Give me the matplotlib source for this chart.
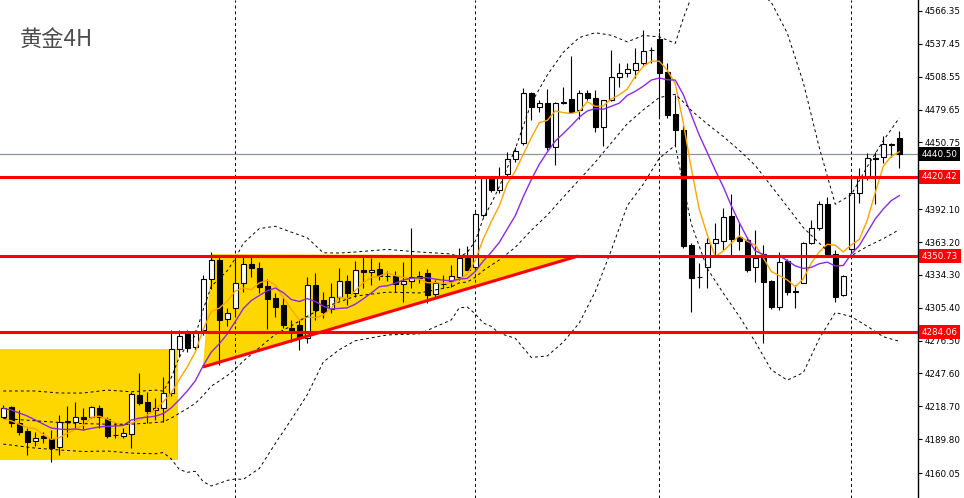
import numpy as np
import matplotlib.pyplot as plt
import matplotlib.transforms as mtransforms
from matplotlib.patches import Rectangle, Polygon

# 4H candles
opens = [4209.6, 4217.8, 4204.3, 4197.0, 4188.2, 4192.8, 4189.9, 4182.6, 4204.9, 4205.2,
         4209.2, 4209.2, 4216.9, 4207.3, 4193.9, 4192.8, 4194.3, 4228.6, 4222.7, 4215.4,
         4216.9, 4230.1, 4268.8, 4282.9, 4271.1, 4285.8, 4330.4, 4347.4, 4295.2, 4304.9,
         4326.9, 4343.8, 4340.2, 4324.5, 4313.7, 4307.8, 4287.6, 4290.2, 4278.5, 4325.4,
         4312.2, 4304.3, 4314.8, 4328.9, 4318.1, 4338.6, 4336.5, 4339.9, 4333.7, 4333.3,
         4326.0, 4328.9, 4331.8, 4335.9, 4317.2, 4326.0, 4328.5, 4332.8, 4349.1, 4341.2,
         4386.9, 4420.2, 4408.9, 4423.0, 4435.9, 4450.0, 4494.0, 4481.6, 4485.2, 4446.5,
         4485.7, 4488.7, 4479.3, 4494.0, 4489.6, 4464.6, 4488.1, 4508.5, 4512.1, 4514.4,
         4520.9, 4532.0, 4541.4, 4513.0, 4475.5, 4461.7, 4360.5, 4332.8, 4340.9, 4362.6,
         4364.3, 4386.1, 4367.9, 4364.9, 4340.9, 4352.6, 4328.9, 4306.3, 4346.7, 4320.1,
         4327.5, 4362.6, 4375.2, 4396.3, 4352.6, 4316.6, 4356.8, 4406.0, 4420.6, 4436.6,
         4437.8, 4448.9, 4454.6]
highs = [4219.8, 4219.0, 4215.4, 4199.6, 4196.4, 4196.4, 4197.9, 4211.1, 4219.0, 4222.7,
         4217.2, 4219.2, 4219.8, 4209.6, 4205.2, 4199.3, 4231.5, 4248.2, 4231.5, 4225.7,
         4244.7, 4285.8, 4285.8, 4285.8, 4285.8, 4334.2, 4354.4, 4351.8, 4304.9, 4350.0,
         4350.3, 4351.8, 4346.0, 4330.6, 4318.1, 4315.1, 4294.6, 4294.6, 4332.8, 4335.7,
         4319.5, 4326.9, 4340.3, 4334.2, 4346.7, 4350.0, 4348.9, 4346.0, 4337.7, 4338.1,
         4345.6, 4375.5, 4337.7, 4339.9, 4329.8, 4334.2, 4343.0, 4357.6, 4359.7, 4389.6,
         4420.6, 4420.6, 4429.5, 4442.3, 4447.1, 4498.6, 4495.4, 4488.1, 4497.5, 4486.3,
         4499.8, 4526.8, 4496.9, 4496.9, 4496.9, 4488.1, 4532.0, 4520.3, 4520.3, 4533.5,
         4549.6, 4535.0, 4548.1, 4520.3, 4492.5, 4466.1, 4362.0, 4344.5, 4366.4, 4380.2,
         4392.8, 4405.4, 4381.0, 4367.9, 4373.7, 4360.5, 4329.8, 4354.7, 4348.1, 4325.4,
         4363.5, 4382.5, 4399.5, 4403.0, 4356.2, 4334.2, 4422.1, 4428.0, 4441.1, 4442.6,
         4456.4, 4450.0, 4460.5]
lows = [4208.1, 4200.8, 4193.5, 4175.9, 4183.8, 4186.2, 4170.0, 4175.9, 4191.7, 4199.3,
        4197.9, 4208.1, 4199.3, 4190.6, 4190.6, 4190.6, 4181.8, 4219.8, 4204.3, 4206.7,
        4205.2, 4227.8, 4262.3, 4266.7, 4268.2, 4281.4, 4321.6, 4255.0, 4289.3, 4299.0,
        4319.5, 4332.8, 4318.1, 4286.7, 4297.5, 4287.3, 4275.2, 4268.2, 4274.1, 4294.6,
        4296.1, 4300.5, 4312.2, 4307.8, 4315.1, 4322.5, 4325.4, 4329.8, 4328.9, 4319.5,
        4310.4, 4322.7, 4327.1, 4310.0, 4315.1, 4322.5, 4323.6, 4329.8, 4338.6, 4338.6,
        4385.2, 4407.4, 4406.0, 4419.5, 4433.5, 4448.5, 4470.5, 4477.8, 4444.1, 4430.9,
        4484.5, 4477.5, 4471.1, 4488.1, 4460.2, 4447.6, 4487.2, 4499.8, 4508.5, 4507.1,
        4518.8, 4520.6, 4472.2, 4472.0, 4448.5, 4357.6, 4301.9, 4322.5, 4322.5, 4351.8,
        4356.2, 4351.8, 4356.2, 4336.8, 4328.3, 4274.1, 4304.0, 4303.4, 4316.6, 4304.9,
        4327.1, 4361.4, 4373.8, 4350.9, 4310.7, 4315.7, 4353.5, 4397.2, 4417.7, 4396.6,
        4432.4, 4438.2, 4428.0]
closes = [4216.9, 4203.7, 4196.4, 4187.6, 4191.1, 4190.6, 4182.3, 4204.6, 4205.8, 4209.2,
          4207.5, 4218.1, 4209.2, 4192.8, 4193.5, 4195.5, 4229.5, 4221.9, 4214.8, 4217.5,
          4230.1, 4268.8, 4280.5, 4269.7, 4282.9, 4330.4, 4347.4, 4294.6, 4301.0, 4326.9,
          4343.8, 4340.2, 4323.9, 4312.8, 4306.3, 4290.2, 4285.8, 4278.5, 4325.4, 4303.4,
          4301.9, 4314.8, 4328.5, 4318.1, 4338.6, 4336.5, 4338.6, 4333.6, 4333.3, 4326.5,
          4328.5, 4332.0, 4333.0, 4317.0, 4327.1, 4326.2, 4332.9, 4349.4, 4339.0, 4387.8,
          4420.2, 4408.9, 4419.3, 4435.9, 4443.5, 4494.0, 4481.6, 4485.2, 4446.5, 4485.2,
          4486.3, 4477.8, 4494.0, 4489.6, 4464.6, 4488.1, 4508.5, 4512.1, 4515.1, 4520.9,
          4531.4, 4531.6, 4512.1, 4474.9, 4461.7, 4359.7, 4331.3, 4332.1, 4362.6, 4365.6,
          4384.9, 4365.8, 4364.3, 4338.6, 4348.9, 4328.3, 4306.3, 4346.0, 4319.5, 4319.5,
          4362.6, 4375.2, 4396.3, 4352.6, 4315.1, 4333.3, 4406.0, 4420.6, 4436.8, 4436.8,
          4449.1, 4449.1, 4440.5]

# moving averages (orange / purple)
ma_fast = [4208.0, 4206.0, 4203.0, 4200.0, 4199.1, 4193.9, 4189.6, 4191.2, 4194.9, 4198.5,
           4201.9, 4209.0, 4210.0, 4207.4, 4204.2, 4201.8, 4204.1, 4206.6, 4211.0, 4215.8,
           4222.8, 4230.6, 4242.3, 4253.3, 4266.4, 4286.5, 4302.2, 4305.0, 4311.3, 4320.1,
           4322.7, 4321.3, 4327.2, 4329.5, 4325.4, 4314.7, 4303.8, 4294.7, 4297.2, 4296.7,
           4299.0, 4304.8, 4314.8, 4313.3, 4320.4, 4327.3, 4332.1, 4333.1, 4336.1, 4333.7,
           4332.1, 4330.8, 4330.7, 4327.4, 4327.5, 4327.1, 4327.2, 4330.5, 4334.9, 4347.1,
           4365.9, 4381.1, 4395.0, 4414.4, 4425.6, 4440.3, 4454.9, 4468.0, 4470.2, 4478.5,
           4477.0, 4476.2, 4478.0, 4486.6, 4482.5, 4482.8, 4489.0, 4492.6, 4497.7, 4508.9,
           4517.6, 4522.2, 4522.2, 4514.2, 4502.3, 4468.0, 4427.9, 4391.9, 4369.5, 4350.3,
           4355.3, 4362.2, 4368.6, 4363.8, 4360.5, 4349.2, 4337.3, 4333.6, 4329.8, 4323.9,
           4330.8, 4344.6, 4354.6, 4361.2, 4360.4, 4354.5, 4360.7, 4365.5, 4382.4, 4406.7,
           4429.9, 4438.5, 4442.5]
ma_slow = [4216.8, 4215.5, 4212.8, 4210.2, 4206.7, 4203.1, 4199.6, 4198.7, 4198.3, 4198.8,
           4197.9, 4199.3, 4200.6, 4201.1, 4201.4, 4201.9, 4206.6, 4208.3, 4209.2, 4210.0,
           4212.3, 4217.4, 4224.5, 4232.2, 4241.1, 4254.6, 4266.4, 4273.7, 4282.3, 4293.2,
           4304.6, 4311.7, 4316.1, 4320.4, 4322.7, 4318.7, 4312.6, 4310.9, 4313.4, 4311.0,
           4306.8, 4304.3, 4304.8, 4305.3, 4308.5, 4313.2, 4318.4, 4323.9, 4324.7, 4327.0,
           4329.7, 4331.4, 4331.9, 4331.8, 4330.6, 4329.6, 4329.0, 4330.6, 4331.2, 4337.3,
           4346.5, 4354.2, 4362.8, 4374.7, 4386.3, 4403.1, 4418.0, 4431.5, 4442.3, 4452.0,
           4458.6, 4465.5, 4473.0, 4478.4, 4480.5, 4479.9, 4482.6, 4485.3, 4492.1, 4495.7,
           4500.2, 4505.6, 4507.4, 4505.9, 4505.6, 4492.8, 4475.1, 4457.1, 4441.8, 4426.3,
           4411.7, 4395.1, 4380.3, 4366.7, 4355.4, 4352.2, 4349.7, 4351.1, 4346.8, 4342.2,
           4340.0, 4340.9, 4344.1, 4345.5, 4342.1, 4342.6, 4352.6, 4360.1, 4371.8, 4383.5,
           4392.2, 4399.6, 4404.0]

# Bollinger bands, read at these bars
band_idx = [0, 4, 7, 10, 13, 16, 19, 20, 21, 22, 23, 24, 25, 26, 27, 28, 29, 30, 32, 34,
            36, 38, 40, 42, 44, 48, 52, 56, 57, 58, 59, 60, 61, 62, 64, 66, 68, 70, 72, 74,
            76, 78, 80, 82, 84, 85, 86, 88, 90, 92, 94, 96, 98, 100, 102, 104, 106, 108, 110, 112]
bb_upper = [4232.2, 4232.2, 4230.4, 4230.4, 4233.0, 4231.5, 4233.0, 4232.1, 4244.0, 4262.0,
            4272.7, 4281.0, 4304.0, 4324.3, 4331.0, 4338.0, 4348.7, 4362.0, 4375.0, 4377.0,
            4371.9, 4366.9, 4353.7, 4353.5, 4354.4, 4356.7, 4354.4, 4352.7, 4350.0, 4354.0,
            4364.0, 4384.0, 4397.0, 4411.8, 4445.0, 4485.3, 4510.0, 4530.0, 4543.0, 4547.2,
            4545.0, 4539.2, 4544.8, 4543.6, 4537.9, 4559.8, 4578.7, 4594.2, 4593.8, 4589.9,
            4585.7, 4574.0, 4546.9, 4503.5, 4446.2, 4396.4, 4404.8, 4429.5, 4452.3, 4472.3]
bb_mid = [4208.0, 4206.0, 4204.5, 4203.5, 4203.0, 4203.0, 4204.4, 4205.1, 4208.4, 4212.6,
          4216.7, 4221.3, 4228.3, 4236.5, 4241.0, 4245.8, 4251.6, 4258.5, 4270.3, 4281.9,
          4289.5, 4297.9, 4305.7, 4310.5, 4315.6, 4319.1, 4318.4, 4323.7, 4327.3, 4328.0,
          4332.2, 4338.1, 4342.8, 4347.4, 4358.5, 4373.5, 4386.8, 4402.6, 4417.9, 4433.4,
          4450.3, 4467.2, 4479.4, 4490.2, 4493.1, 4486.4, 4478.9, 4467.0, 4456.0, 4443.9,
          4430.5, 4412.4, 4394.3, 4375.9, 4362.2, 4348.8, 4351.2, 4359.3, 4366.1, 4374.1]
bb_lower = [4185.5, 4182.0, 4180.3, 4179.0, 4179.4, 4177.6, 4177.0, 4178.1, 4172.4, 4163.2,
            4160.7, 4161.6, 4152.3, 4148.7, 4151.0, 4153.6, 4154.8, 4154.5, 4164.0, 4186.0,
            4207.1, 4228.9, 4257.7, 4268.5, 4276.4, 4281.5, 4282.4, 4294.7, 4305.3, 4306.0,
            4300.0, 4292.0, 4289.0, 4283.0, 4278.5, 4261.7, 4263.0, 4275.2, 4292.0, 4319.6,
            4356.0, 4395.2, 4414.0, 4436.8, 4448.3, 4413.0, 4379.1, 4339.8, 4318.2, 4297.9,
            4275.3, 4250.8, 4241.7, 4248.3, 4278.2, 4301.2, 4297.6, 4289.1, 4279.9, 4275.9]

levels = [4420.42, 4350.73, 4284.06]
last_price = 4440.50
tick_vals = [4566.35, 4537.45, 4508.55, 4479.65, 4450.75, 4392.10, 4363.20, 4334.30,
             4305.40, 4276.50, 4247.60, 4218.70, 4189.80, 4160.05]
separators = [29, 59, 82, 106]

fig = plt.figure(figsize=(9.64, 4.98), dpi=100)
ax = fig.add_axes([0, 0, 918 / 964, 1])
ax.set_xlim(-0.41, 114.34)
ax.set_ylim(4138.1, 4576.0)

# yellow zones
ax.add_patch(Rectangle((-0.5, 4171.5), 22.35, 97.8, fc='#FFD700', ec='none', zorder=0.5))
ax.add_patch(Polygon([(24.96, 4253.3), (26.1, 4352.5), (71.85, 4351.5)],
                     closed=True, fc='#FFD700', ec='none', zorder=0.5))

for s in separators:
    ax.axvline(s, color='black', ls=(0, (3, 3)), lw=0.7, zorder=1)

ax.axhline(last_price, color='#8a949e', lw=0.9, zorder=1.5)

# candles
x = np.arange(len(closes))
ax.vlines(x, lows, highs, color='black', lw=0.8, zorder=2)
for i in range(len(closes)):
    o, c = opens[i], closes[i]
    fc = 'white' if c >= o else 'black'
    h = max(abs(c - o), 0.3)
    ax.add_patch(Rectangle((i - 0.3, min(o, c)), 0.6, h, fc=fc, ec='black',
                           lw=0.8, zorder=3))

ax.plot(x, ma_fast, color='#FFA500', lw=1.0, zorder=4)
ax.plot(x, ma_slow, color='#8A2BE2', lw=1.0, zorder=4)
for band in (bb_upper, bb_mid, bb_lower):
    ax.plot(band_idx, band, color='black', lw=0.7, ls=(0, (3, 3)), zorder=4)

# support / resistance
for lv in levels:
    ax.axhline(lv, color='red', lw=2.2, zorder=5)
ax.plot([24.96, 71.85], [4253.3, 4350.9], color='red', lw=2.2, zorder=5,
        solid_capstyle='butt')

# axis styling
for sp in ['left', 'top', 'bottom']:
    ax.spines[sp].set_visible(False)
ax.spines['right'].set_linewidth(1.0)
ax.set_xticks([])
ax.yaxis.tick_right()
ax.set_yticks(tick_vals)
ax.set_yticklabels([f'{v:.2f}' for v in tick_vals])
ax.tick_params(axis='y', length=3, width=0.8, pad=2, labelsize=6.3)

trans = mtransforms.blended_transform_factory(ax.transAxes, ax.transData)
for lv in levels:
    ax.text(1.004, lv, f'{lv:.2f}', transform=trans, color='white', fontsize=6.3,
            ha='left', va='center', clip_on=False, zorder=10,
            bbox=dict(boxstyle='square,pad=0.3', fc='red', ec='none'))
ax.text(1.004, last_price, f'{last_price:.2f}', transform=trans, color='white',
        fontsize=6.3, ha='left', va='center', clip_on=False, zorder=10,
        bbox=dict(boxstyle='square,pad=0.3', fc='black', ec='none'))

ax.text(0.022, 0.918, '黄金4H', transform=ax.transAxes, fontsize=16, color='#4d4d4d',
        ha='left', va='center', family=['Noto Sans CJK SC', 'DejaVu Sans'])

fig.savefig('out.png', dpi=100)
